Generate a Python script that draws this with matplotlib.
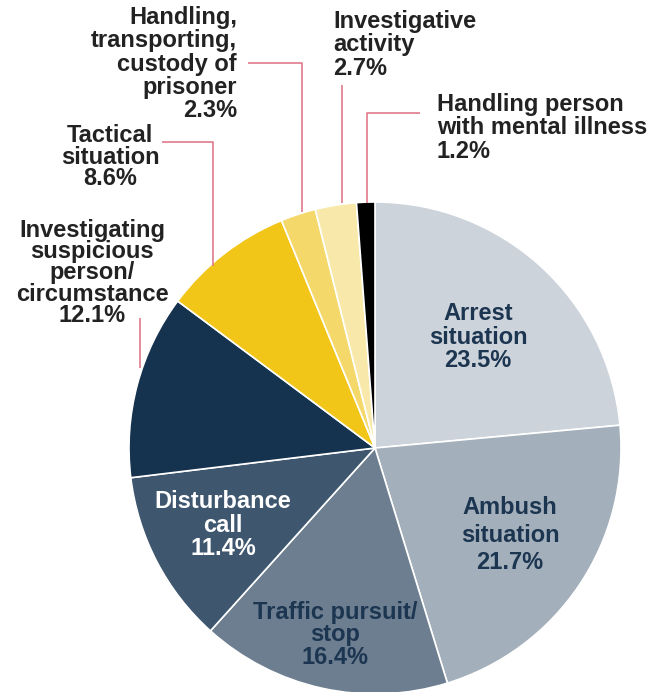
import matplotlib
matplotlib.use("Agg")
import matplotlib.pyplot as plt

# ---- data ----
categories = ["Arrest situation", "Ambush situation", "Traffic pursuit/stop",
              "Disturbance call", "Investigating suspicious person/circumstance",
              "Tactical situation", "Handling, transporting, custody of prisoner",
              "Investigative activity", "Handling person with mental illness"]
values = [23.5, 21.7, 16.4, 11.4, 12.1, 8.6, 2.3, 2.7, 1.2]
colors = ["#cdd3da", "#a3afbb", "#6c7e90", "#3e566e", "#15324f",
          "#f2c619", "#f5d86a", "#f8e9ab", "#000000"]

W, H = 652, 692
fig = plt.figure(figsize=(W / 100, H / 100), dpi=100)
ax = fig.add_axes([0, 0, 1, 1])

def Y(y):
    return H - y

cx, cy, r = 375, 448, 246
ax.pie(values, colors=colors, startangle=90, counterclock=False,
       center=(cx, Y(cy)), radius=r, frame=True,
       wedgeprops=dict(edgecolor="white", linewidth=1.2))
ax.set_xlim(0, W)
ax.set_ylim(0, H)
ax.set_aspect("equal")
ax.axis("off")

FONT = "Liberation Sans"
FS = 17
dark = "#222222"
navy = "#1c3550"

def label(x, y, s, ha="center", color=dark, ls=1.05):
    ax.text(x, Y(y), s, ha=ha, va="center", fontsize=FS, fontweight="bold",
            family=FONT, color=color, linespacing=ls, multialignment=ha)

def pct(v):
    return f"{v:.1f}%"

# outside labels
label(237, 64, "Handling,\ntransporting,\ncustody of\nprisoner\n" + pct(values[6]), ha="right", ls=1.02)
label(110, 157, "Tactical\nsituation\n" + pct(values[5]), ls=0.9)
label(92, 273, "Investigating\nsuspicious\nperson/\ncircumstance\n" + pct(values[4]), ls=0.89)
label(333, 45, "Investigative\nactivity\n" + pct(values[7]), ha="left")
label(437, 128, "Handling person\nwith mental illness\n" + pct(values[8]), ha="left")

# inside labels
label(478, 337, "Arrest\nsituation\n" + pct(values[0]), color=navy, ls=1.05)
label(510, 535, "Ambush\nsituation\n" + pct(values[1]), color=navy, ls=1.25)
label(335, 635, "Traffic pursuit/\nstop\n" + pct(values[2]), color=navy, ls=0.98)
label(223, 525, "Disturbance\ncall\n" + pct(values[3]), color="white", ls=1.02)

# leader lines
lc = "#e07a8c"
lw = 1.2
def leader(pts):
    xs = [p[0] for p in pts]
    ys = [Y(p[1]) for p in pts]
    ax.plot(xs, ys, color=lc, lw=lw, solid_capstyle="butt")

leader([(248, 63), (302, 63), (302, 212)])
leader([(162, 142), (213, 142), (213, 266)])
leader([(140, 318), (140, 368)])
leader([(342, 85), (342, 203)])
leader([(420, 113), (367, 113), (367, 203)])

fig.savefig("out.png", dpi=100, facecolor="white")
